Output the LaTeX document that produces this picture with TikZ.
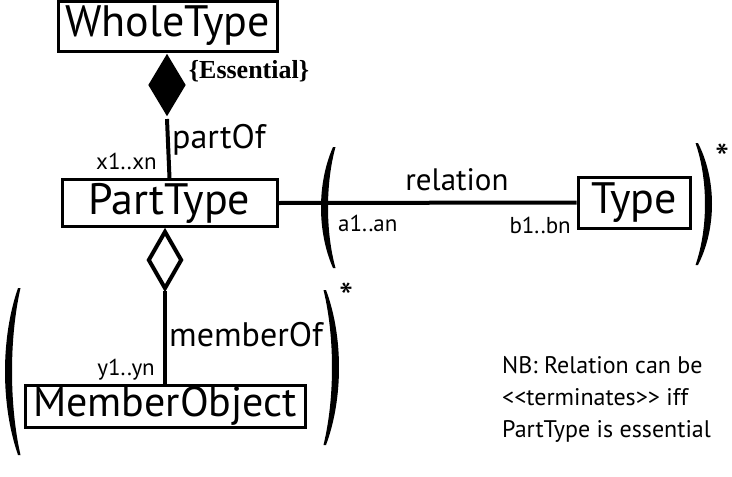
\documentclass[tikz,border=0pt]{standalone}
\usepackage{fontspec}
\setmainfont{PT Sans}
\newfontfamily\serifb{Liberation Serif}
\usetikzlibrary{shapes.geometric}
\newcommand{\myparL}[4]{% tip x, top y, bottom y, bulge
 \fill ({#1},{#2}) .. controls ({#1-#4*1.333},{#2+0.3*(#3-#2)}) and ({#1-#4*1.333},{#2+0.7*(#3-#2)}) .. ({#1},{#3}) -- ({#1+2.5},{#3}) .. controls ({#1-#4*1.333+8.5},{#2+0.7*(#3-#2)}) and ({#1-#4*1.333+8.5},{#2+0.3*(#3-#2)}) .. ({#1+2.5},{#2}) -- cycle;}
\newcommand{\myparR}[4]{% tip x, top y, bottom y, bulge
 \fill ({#1},{#2}) .. controls ({#1+#4*1.333},{#2+0.3*(#3-#2)}) and ({#1+#4*1.333},{#2+0.7*(#3-#2)}) .. ({#1},{#3}) -- ({#1-2.5},{#3}) .. controls ({#1+#4*1.333-8.5},{#2+0.7*(#3-#2)}) and ({#1+#4*1.333-8.5},{#2+0.3*(#3-#2)}) .. ({#1-2.5},{#2}) -- cycle;}
\begin{document}
\begin{tikzpicture}[x=1pt,y=-1pt,
  cls/.style={draw, line width=3pt, inner sep=0pt, font=\fontsize{44}{44}\selectfont},
  conn/.style={line width=4pt},
  lbl/.style={inner sep=0pt, font=\fontsize{34}{34}\selectfont},
  mult/.style={inner sep=0pt, font=\fontsize{23}{23}\selectfont},
  star/.style={inner sep=0pt, font=\fontsize{40}{40}\selectfont},
  dia/.style={diamond, inner sep=0pt, line width=4pt}]
\useasboundingbox (0,0) rectangle (732,477);
\node[cls, minimum width=219pt, minimum height=50pt] (whole) at (167.5,26) {WholeType};
\node[cls, minimum width=215pt, minimum height=47pt] (part) at (169.5,203) {PartType};
\node[cls, minimum width=112pt, minimum height=51pt] (type) at (634,202.5) {Type};
\node[cls, minimum width=280pt, minimum height=42pt, font=\fontsize{42}{42}\selectfont] (member) at (165,406) {MemberObject};
\node[dia, fill, draw=none, minimum width=39pt, minimum height=64pt] (fdia) at (167,85) {};
\node[dia, draw, fill=white, minimum width=34pt, minimum height=58pt] (hdia) at (165,260) {};
\draw[conn] (fdia.south) -- (part.north);
\draw[conn] (hdia.south) -- (member.north);
\draw[conn] (part.east) -- (type.west);
\node[inner sep=0pt, font=\serifb\bfseries\fontsize{26}{26}\selectfont] (ess) at (249,71) {\{Essential\}};
\node[lbl, anchor=west] (partof) at (172,140) {partOf};
\node[mult, anchor=east] (x1) at (157,161) {x1..xn};
\node[inner sep=0pt, font=\fontsize{31}{31}\selectfont] (rel) at (457,180) {relation};
\node[mult, anchor=west] (a1) at (338,223) {a1..an};
\node[mult, anchor=east] (b1) at (571,225) {b1..bn};
\node[lbl, anchor=west] (memof) at (169,335) {memberOf};
\node[mult, anchor=east] (y1) at (155,370) {y1..yn};
\node[mult, anchor=north west, align=left, font=\fontsize{24}{32}\selectfont] (nb) at (502,356) {NB: Relation can be\\ <{}<terminates>{}> iff\\ PartType is essential};
\myparL{333}{147}{268}{12}
\myparR{698}{143}{265}{14}
\myparL{18}{288}{455}{13}
\myparR{326}{290}{445}{13}
\node[star] (s1) at (723,158) {*};
\node[star] (s2) at (347,297) {*};
\end{tikzpicture}
\end{document}
